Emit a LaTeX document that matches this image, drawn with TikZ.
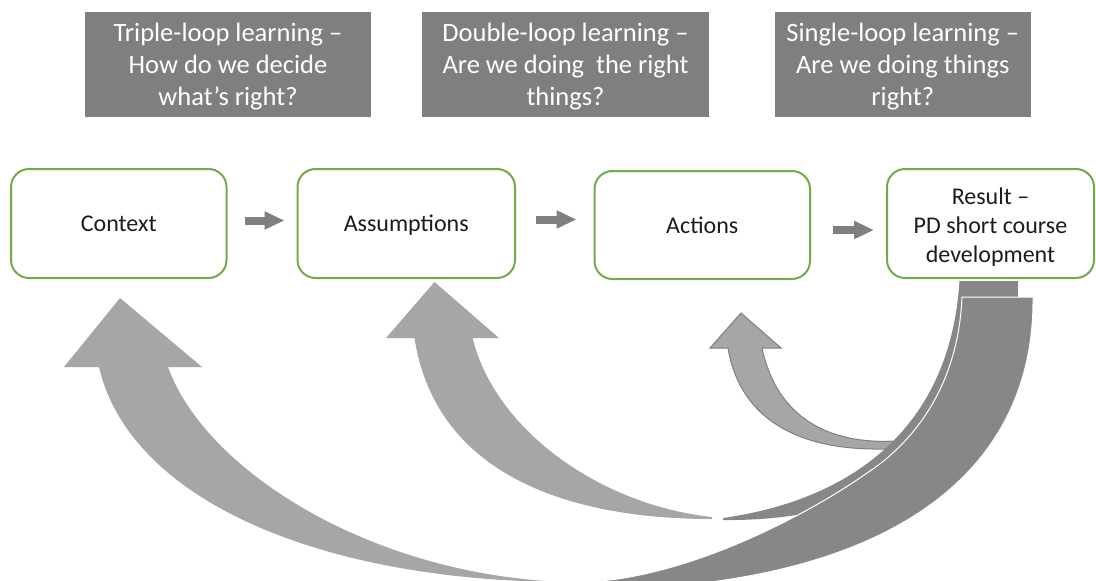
\documentclass[tikz,border=0pt]{standalone}
\usepackage{fontspec}
\setmainfont{Carlito}
\usetikzlibrary{arrows.meta,calc}
\definecolor{boxgray}{HTML}{7F7F7F}
\definecolor{lightband}{HTML}{A6A6A6}
\definecolor{darkband}{HTML}{878787}
\definecolor{edgegreen}{HTML}{70AD47}
\definecolor{txt}{HTML}{1C1C1C}
\begin{document}
\begin{tikzpicture}[x=1pt,y=-1pt,
  question/.style={fill=boxgray, inner sep=0pt, minimum height=105pt},
  qtext/.style={text=white, align=center, inner sep=0pt, yshift=-2.5pt,
    font=\fontsize{26.5}{32}\selectfont},
  stage/.style={draw=edgegreen, line width=2pt, rounded corners=18pt, fill=white,
    align=center, text=txt, inner sep=0pt, text height=21pt, text depth=5pt,
    font=\fontsize{24}{29}\selectfont},
  stagetext/.style={text=txt, align=center, inner sep=0pt, yshift=-4pt,
    font=\fontsize{24}{29}\selectfont},
  flow/.style={draw=boxgray, line width=8pt, -{Triangle[length=20pt,width=17pt]}},
  lightpart/.style={fill=lightband},
  darkpart/.style={fill=darkband},
]
\useasboundingbox (0,0) rectangle (1096,581);

% loop questions
\node[question, minimum width=286pt,
  label={[qtext]center:{Triple-loop learning –\\How do we decide\\what’s right?}}]
  (q3) at (228,64.5) {};
\node[question, minimum width=287pt,
  label={[qtext]center:{Double-loop learning –\\Are we doing~ the right\\things?}}]
  (q2) at (565.5,64.5) {};
\node[question, minimum width=256.5pt,
  label={[qtext]center:{Single-loop learning –\\Are we doing things\\right?}}]
  (q1) at (902.75,64.5) {};

% stages
\node[stage, minimum width=215.5pt, minimum height=109pt] (ctx) at (118.75,223.5) {Context};
\node[stage, minimum width=217.5pt, minimum height=109pt] (asm) at (406.25,223.5) {Assumptions};
\node[stage, minimum width=215.5pt, minimum height=108pt] (act) at (702.25,225) {Actions};
\node[stage, minimum width=207pt, minimum height=109pt,
  label={[stagetext]center:{Result –\\PD short course\\development}}]
  (res) at (990.5,223.5) {};

% forward flow
\draw[flow] ($(ctx.east)+(17,-3)$) -- ($(asm.west)+(-12,-3)$);
\draw[flow] ($(asm.east)+(20,-4)$) -- ($(act.west)+(-17,-5.5)$);
\draw[flow] ($(act.east)+(22,5)$) -- ($(res.west)+(-12,6.5)$);

% feedback loops
\begin{scope}
\clip (0,0) rectangle (1096,581);

% single loop: back to actions
\path[lightpart, draw=boxgray, line width=1pt]
  (728,348) -- (710,348) -- (741,313) -- (781,348) -- (762,348)
  .. controls (775,410) and (820,445) .. (895,441) -- (903,437) -- (905,449)
  -- (880,449) .. controls (800,450) and (740,420) .. (728,348) -- cycle;

% double loop: back to assumptions
\path[lightpart]
  (414.5,338) -- (386,338) -- (434.5,282) -- (499,338) -- (472.6,338)
  .. controls (495,430) and (600,505) .. (712,517) -- (712,519)
  .. controls (560,519) and (435,470) .. (414.5,338) -- cycle;
\path[darkpart]
  (723,518) .. controls (850,500) and (950,430) .. (959.5,281) -- (1018,281)
  .. controls (1020,430) and (900,522) .. (723,520) -- cycle;

% triple loop: back to context
\path[lightpart]
  (99,367) -- (64,367) -- (120,298) -- (202,367) -- (168,367)
  .. controls (205,470) and (370,575) .. (565,582)
  .. controls (320,581) and (130,500) .. (99,367) -- cycle;
\path[darkpart, draw=white, line width=1pt]
  (962,297) -- (1033,297) .. controls (1035,480) and (880,590) .. (580,590)
  -- (583,582) .. controls (690,579) and (815,510) .. (867,473)
  .. controls (910,445) and (958,390) .. (962,297) -- cycle;
\end{scope}
\end{tikzpicture}
\end{document}
